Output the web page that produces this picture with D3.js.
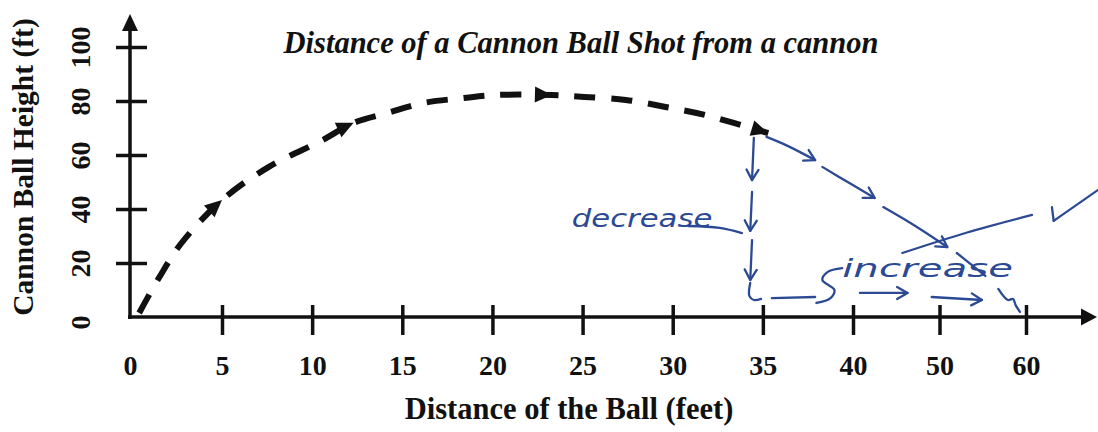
<!DOCTYPE html>
<html>
<head>
<meta charset="utf-8">
<script src="https://cdn.jsdelivr.net/npm/d3@7"></script>
<style>
  html, body { margin: 0; padding: 0; background: #fff; }
  svg { display: block; }
</style>
</head>
<body>
<svg id="chart" width="1098" height="432"></svg>
<script>
// Axis tick values
const xTickValues = [0, 5, 10, 15, 20, 25, 30, 35, 40, 50, 60];
const yTickValues = [0, 20, 40, 60, 80, 100];

// Flight path of the ball: distance (ft) and height (ft)
const flightDistance = [0.5, 1.6, 2.8, 5.0, 7.6, 10.6, 12.3, 14.2, 16.2, 18.4, 20.1, 23.3, 25.1, 27.4, 29.6, 31.8, 35.3];
const flightHeight   = [1.5, 14.8, 27.4, 43.3, 55.6, 65.6, 71.9, 75.6, 79.3, 81.1, 82.2, 82.2, 81.5, 80.4, 77.8, 74.8, 68.1];
// Distances where direction arrows sit on the path
const arrowDistance = [5.0, 12.3, 23.3, 35.3];

// Pen notes, [distance, height] points: strokes ending in an open arrow head
const penArrows = [
  [[34.5, 66.3], [34.4, 50.7]],
  [[34.4, 46.3], [34.3, 31.9]],
  [[34.4, 28.5], [34.3, 13.7]],
  [[35.2, 66.7], [36.4, 63.3], [37.9, 58.1]],
  [[38.3, 55.6], [39.8, 49.6], [42.5, 44.1]],
  [[43.5, 40.7], [47.2, 33.7], [50.9, 25.9]],
  [[40.8, 8.9], [46.3, 8.9]],
  [[49.1, 7.4], [54.9, 6.3]]
];
// Pen notes: plain strokes
const penStrokes = [
  [[34.3, 12.6], [34.25, 7.8], [34.5, 6.3], [34.9, 6.7]],
  [[52.0, 23.7], [55.3, 15.2]],
  [[56.8, 10.4], [57.9, 6.3], [58.5, 6.7], [58.8, 4.4], [59.3, 1.9]],
  [[35.5, 7.0], [37.9, 7.4]],
  [[39.4, 18.1], [38.6, 16.7], [38.3, 13.7], [38.97, 10.0], [38.75, 7.0], [37.97, 5.2]],
  [[45.7, 23.7], [53.2, 31.3], [60.7, 37.8]],
  [[63.0, 40.7], [63.2, 35.6]],
  [[63.2, 35.6], [68.3, 47.0]],
  [[30.85, 33.7], [32.6, 33.0], [33.84, 31.1]]
];
// Pen words: text, start distance, end distance, baseline height
const penWords      = ["decrease", "increase"];
const penWordStart  = [24.4, 39.4];
const penWordEnd    = [32.2, 58.5];
const penWordHeight = [33.3, 14.8];

const ink = "#111";
const pen = "#2c4a94";
const serif = "'Liberation Serif', 'Times New Roman', serif";

const svg = d3.select("#chart");

// Tick spacing is even per label, so the distance scale is piecewise
const x = d3.scaleLinear().domain([0, 5, 40, 60]).range([130, 222, 853, 1026]);
const y = d3.scaleLinear().domain([0, 100]).range([317, 47]);

// Title
svg.append("text")
  .attr("x", 581).attr("y", 53)
  .attr("text-anchor", "middle")
  .attr("font-family", serif).attr("font-weight", "bold").attr("font-style", "italic")
  .attr("font-size", 30.5).attr("fill", ink)
  .text("Distance of a Cannon Ball Shot from a cannon");

// X axis
const gx = svg.append("g")
  .attr("transform", `translate(0,${y(0)})`)
  .call(d3.axisBottom(x).tickValues(xTickValues).tickSize(18).tickFormat(d3.format("d")));
gx.select(".domain").remove();
gx.selectAll(".tick line")
  .attr("y1", -12).attr("stroke", ink).attr("stroke-width", 3.5)
  .style("display", d => d === 0 ? "none" : null);
gx.selectAll(".tick text")
  .attr("y", 58).attr("dy", null)
  .attr("font-family", serif).attr("font-weight", "bold").attr("font-size", 28).attr("fill", ink);

// Y axis
const gy = svg.append("g")
  .attr("transform", `translate(${x(0)},0)`)
  .call(d3.axisLeft(y).tickValues(yTickValues).tickSize(14));
gy.select(".domain").remove();
gy.selectAll(".tick line")
  .attr("x1", 17).attr("stroke", ink).attr("stroke-width", 3.5)
  .style("display", d => d === 0 ? "none" : null);
gy.selectAll(".tick text")
  .attr("x", null).attr("dy", null).attr("text-anchor", "middle")
  .attr("transform", d => `translate(-40,${d === 0 ? 5 : 0}) rotate(-90)`)
  .attr("font-family", serif).attr("font-weight", "bold").attr("font-size", 28).attr("fill", ink);

// Axis lines with arrow heads
const x0 = x(0), y0 = y(0);
svg.append("line").attr("x1", x0 - 2).attr("x2", 1084).attr("y1", y0).attr("y2", y0)
  .attr("stroke", ink).attr("stroke-width", 3.5);
svg.append("path").attr("d", `M1097,${y0} L1081,${y0 - 8.5} L1081,${y0 + 8.5} Z`).attr("fill", ink);
svg.append("line").attr("x1", x0).attr("x2", x0).attr("y1", y0 + 2).attr("y2", 28)
  .attr("stroke", ink).attr("stroke-width", 3.5);
svg.append("path").attr("d", `M${x0},14 L${x0 - 8},31 L${x0 + 8},31 Z`).attr("fill", ink);

// Axis titles
svg.append("text")
  .attr("x", 569).attr("y", 419).attr("text-anchor", "middle")
  .attr("font-family", serif).attr("font-weight", "bold").attr("font-size", 30.5).attr("fill", ink)
  .text("Distance of the Ball (feet)");
svg.append("text")
  .attr("transform", "translate(33,167) rotate(-90)").attr("text-anchor", "middle")
  .attr("font-family", serif).attr("font-weight", "bold").attr("font-size", 29.5).attr("fill", ink)
  .text("Cannon Ball Height (ft)");

// Flight path
const flight = d3.zip(flightDistance, flightHeight);
const curve = d3.line().x(d => x(d[0])).y(d => y(d[1])).curve(d3.curveCatmullRom.alpha(0.5));
const flightPath = svg.append("path")
  .datum(flight)
  .attr("d", curve)
  .attr("fill", "none").attr("stroke", ink).attr("stroke-width", 6)
  .attr("stroke-dasharray", "21,16");

// Direction arrow heads along the path
const node = flightPath.node();
const total = node.getTotalLength();
function lengthAtX(px) {
  let lo = 0, hi = total;
  for (let i = 0; i < 40; i++) {
    const mid = (lo + hi) / 2;
    if (node.getPointAtLength(mid).x < px) lo = mid; else hi = mid;
  }
  return (lo + hi) / 2;
}
arrowDistance.forEach(ad => {
  const L = Math.min(lengthAtX(x(ad)), total);
  const p = node.getPointAtLength(L);
  const q = node.getPointAtLength(Math.max(0, L - 5));
  const ang = Math.atan2(p.y - q.y, p.x - q.x) * 180 / Math.PI;
  svg.append("path")
    .attr("d", "M0,0 L-17,-8 L-17,8 Z")
    .attr("transform", `translate(${p.x},${p.y}) rotate(${ang})`)
    .attr("fill", ink);
});

// Pen notes
const penLine = d3.line().x(d => x(d[0])).y(d => y(d[1])).curve(d3.curveCatmullRom.alpha(0.5));
const notes = svg.append("g")
  .attr("fill", "none").attr("stroke", pen).attr("stroke-width", 2.3)
  .attr("stroke-linecap", "round").attr("stroke-linejoin", "round");

notes.selectAll("path.stroke").data(penStrokes).join("path")
  .attr("class", "stroke").attr("d", penLine);

notes.selectAll("path.arrow").data(penArrows).join("path")
  .attr("class", "arrow").attr("d", penLine);

// Open chevron heads at the end of each pen arrow
notes.selectAll("path.head").data(penArrows).join("path")
  .attr("class", "head")
  .attr("d", s => {
    const a = s[s.length - 2], b = s[s.length - 1];
    const ax = x(a[0]), ay = y(a[1]), bx = x(b[0]), by = y(b[1]);
    const t = Math.atan2(by - ay, bx - ax);
    const r = 12, w = Math.PI / 6;
    const p1 = [bx - r * Math.cos(t - w), by - r * Math.sin(t - w)];
    const p2 = [bx - r * Math.cos(t + w), by - r * Math.sin(t + w)];
    return `M${p1[0]},${p1[1]} L${bx},${by} L${p2[0]},${p2[1]}`;
  });

// Pen words
svg.selectAll("text.word").data(penWords).join("text")
  .attr("class", "word")
  .attr("x", (d, i) => x(penWordStart[i]))
  .attr("y", (d, i) => y(penWordHeight[i]))
  .attr("textLength", (d, i) => x(penWordEnd[i]) - x(penWordStart[i]))
  .attr("lengthAdjust", "spacingAndGlyphs")
  .attr("font-family", "'DejaVu Sans', sans-serif").attr("font-style", "oblique")
  .attr("font-size", 25).attr("fill", pen)
  .text(d => d);
</script>
</body>
</html>
